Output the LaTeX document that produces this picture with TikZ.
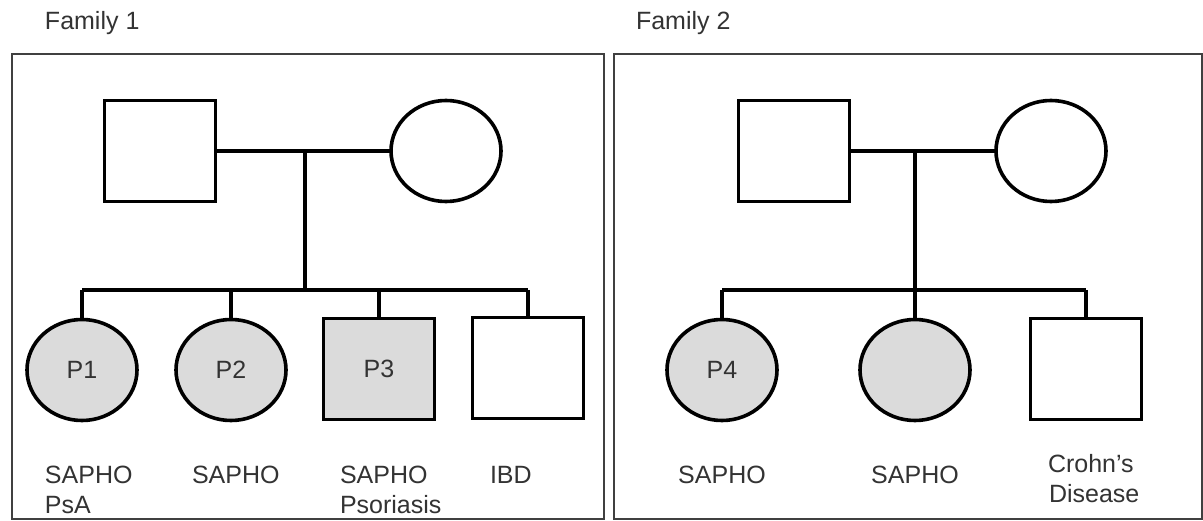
\documentclass[tikz,border=0pt]{standalone}
\usepackage{fontspec}
\setmainfont{Liberation Sans}
\usetikzlibrary{shapes.geometric}
\newcommand{\plabel}[1]{\raisebox{-4pt}{#1}}
\begin{document}
\begin{tikzpicture}[x=1pt,y=-1pt,
  lbl/.style={font=\fontsize{25}{30}\selectfont, text=black!80, inner sep=0pt, outer sep=0pt},
  shapeline/.style={draw=black, line width=3.6pt},
  male/.style={lbl, rectangle, minimum width=111pt, minimum height=101pt, shapeline},
  female/.style={lbl, ellipse, minimum width=110pt, minimum height=101pt, shapeline},
  affected/.style={fill=black!14},
  link/.style={draw=black, line width=3.2pt},
  frame/.style={draw=black!75, line width=2.4pt}]
\useasboundingbox (0,0) rectangle (1203,521);
\fill[white] (0,0) rectangle (1203,521);

% frames
\node[frame, rectangle, minimum width=592pt, minimum height=465pt, anchor=north west, inner sep=0pt] (fr1) at (11,53) {};
\node[frame, rectangle, minimum width=588pt, minimum height=465pt, anchor=north west, inner sep=0pt] (fr2) at (613,53) {};
\node[lbl, anchor=base west] (t1) at (45,30) {Family 1};
\node[lbl, anchor=base west] (t2) at (636,30) {Family 2};

% ---------- Family 1 ----------
\node[male] (f1dad) at (160,151) {};
\node[female] (f1mom) at (446,151) {};
\coordinate (f1m) at (305,151);
\coordinate (f1s) at (305,290);
\node[female, affected] (p1) at (82,370) {\plabel{P1}};
\node[female, affected] (p2) at (231,370) {\plabel{P2}};
\node[male, affected] (p3) at (379,369) {\plabel{P3}};
\node[male] (ibd) at (528,368) {};
\coordinate (s1a) at (82,290);
\coordinate (s1b) at (231,290);
\coordinate (s1c) at (379,290);
\coordinate (s1d) at (528,290);
\path[link] (f1dad.east) -- (f1mom.west);
\path[link] (f1m) -- (f1s);
\path[link] (s1a) -- (s1d);
\path[link] (s1a) -- (p1.north);
\path[link] (s1b) -- (p2.north);
\path[link] (s1c) -- (p3.north);
\path[link] (s1d) -- (ibd.north);

\node[lbl, anchor=base west] (l1a) at (45,483) {SAPHO};
\node[lbl, anchor=base west] (l1b) at (45,513) {PsA};
\node[lbl, anchor=base west] (l2a) at (192,483) {SAPHO};
\node[lbl, anchor=base west] (l3a) at (340,483) {SAPHO};
\node[lbl, anchor=base west] (l3b) at (340,513) {Psoriasis};
\node[lbl, anchor=base west] (l4a) at (490,483) {IBD};

% ---------- Family 2 ----------
\node[male] (f2dad) at (794,151) {};
\node[female] (f2mom) at (1051,151) {};
\coordinate (f2m) at (915,151);
\coordinate (f2s) at (915,290);
\node[female, affected] (p4) at (722,370) {\plabel{P4}};
\node[female, affected] (c2) at (915,370) {};
\node[male] (crohn) at (1086,369) {};
\coordinate (s2a) at (722,290);
\coordinate (s2c) at (1086,290);
\path[link] (f2dad.east) -- (f2mom.west);
\path[link] (f2m) -- (f2s);
\path[link] (s2a) -- (s2c);
\path[link] (s2a) -- (p4.north);
\path[link] (f2s) -- (c2.north);
\path[link] (s2c) -- (crohn.north);

\node[lbl, anchor=base] (l5a) at (722,483) {SAPHO};
\node[lbl, anchor=base] (l6a) at (915,483) {SAPHO};
\node[lbl, anchor=base west] (l7a) at (1048,472) {Crohn’s};
\node[lbl, anchor=base west] (l7b) at (1049,502) {Disease};
\end{tikzpicture}
\end{document}
